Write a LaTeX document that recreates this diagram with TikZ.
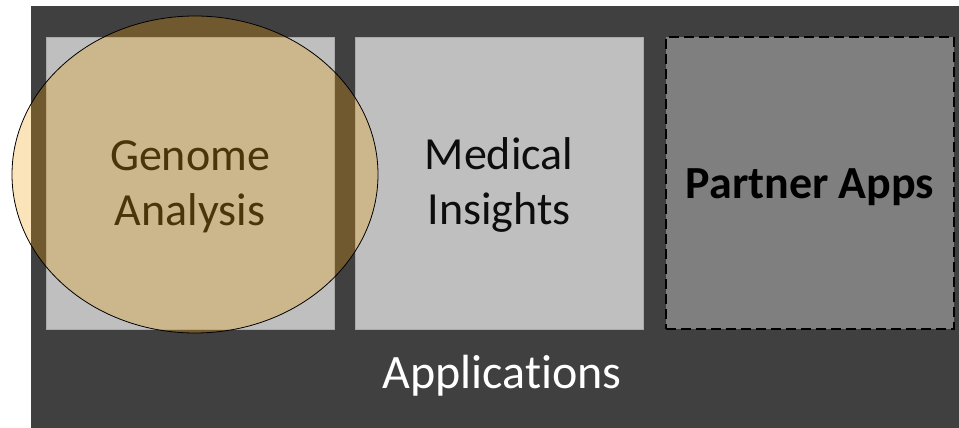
\documentclass[tikz,border=0pt]{standalone}
\usepackage{fontspec}
\setmainfont{Carlito}[Ligatures=NoCommon]
\definecolor{bgdark}{RGB}{64,64,64}
\definecolor{boxgray}{RGB}{191,191,191}
\definecolor{boxline}{RGB}{170,170,170}
\definecolor{partnergray}{RGB}{127,127,127}
\definecolor{goldfill}{RGB}{242,158,0}
\definecolor{textdark}{RGB}{13,13,13}
\begin{document}
\begin{tikzpicture}[x=1pt,y=-1pt,
  appbox/.style={rectangle, fill=boxgray, draw=boxline, line width=0.8pt, minimum width=288pt, minimum height=292pt, inner sep=0pt},
  partnerbox/.style={rectangle, fill=partnergray, draw=black, line width=2.4pt, dash pattern=on 10pt off 5pt, minimum width=288pt, minimum height=292pt, inner sep=0pt},
  boxtext/.style={font=\fontsize{46}{55}\selectfont, text=textdark, align=center, inner sep=0pt}
]
\useasboundingbox (0,0) rectangle (959,428);
\fill[white] (0,0) rectangle (959,428);
\node[rectangle, fill=bgdark, draw=none, minimum width=940pt, minimum height=430pt, inner sep=0pt, anchor=north west] (bg) at (31,6) {};
\node[appbox] (genome) at (190,183) {};
\node[appbox] (medical) at (499,183) {};
\node[partnerbox] (partner) at (810,183) {};
\node[boxtext] (genometext) at (190,187) {Genome\\Analysis};
\node[boxtext] (medicaltext) at (499,185) {Medical\\Insights};
\node[boxtext, font=\fontsize{46}{55}\selectfont\bfseries, text=black, anchor=base] (partnertext) at (810,198) {Partner Apps};
\node[font=\fontsize{48}{58}\selectfont, text=white, anchor=base, inner sep=0pt] (apps) at (502,388) {Applications};
\draw[fill=goldfill, fill opacity=0.27, draw=black, line width=0.8pt] (195,174.5) ellipse [x radius=183, y radius=158.5];
\end{tikzpicture}
\end{document}
